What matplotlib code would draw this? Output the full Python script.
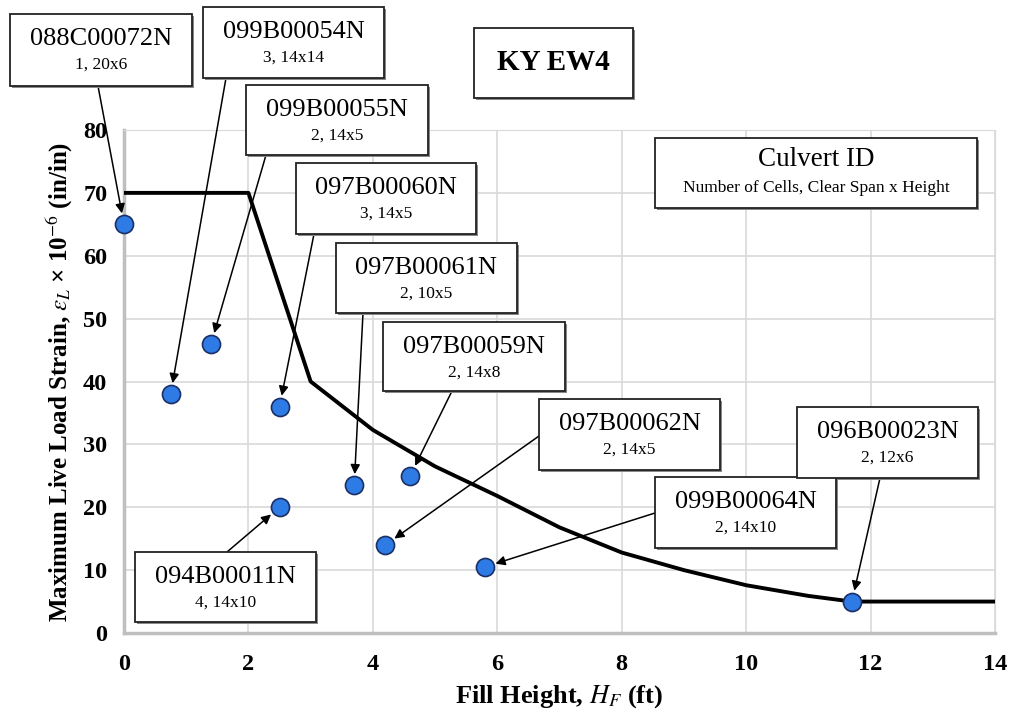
import matplotlib
matplotlib.use("Agg")
import matplotlib.pyplot as plt
from matplotlib.patches import Rectangle

plt.rcParams["mathtext.fontset"] = "stix"

# culvert data
culvert_ids = ["088C00072N", "099B00054N", "099B00055N", "097B00060N", "097B00061N",
               "097B00059N", "097B00062N", "099B00064N", "096B00023N", "094B00011N"]
cell_info = ["1, 20x6", "3, 14x14", "2, 14x5", "3, 14x5", "2, 10x5",
             "2, 14x8", "2, 14x5", "2, 14x10", "2, 12x6", "4, 14x10"]
fill_height = [0.0, 0.75, 1.4, 2.5, 3.7, 4.6, 4.2, 5.8, 11.7, 2.5]
strain = [65.0, 38.0, 46.0, 36.0, 23.5, 25.0, 14.0, 10.5, 5.0, 20.0]

# design limit curve
limit_x = [0, 2, 3, 4, 5, 6, 7, 8, 9, 10, 11, 11.7, 14]
limit_y = [70, 70, 40, 32.3, 26.5, 21.8, 16.8, 12.8, 10.0, 7.6, 5.9, 5.0, 5.0]

# label boxes in pixels from top-left: (left, top, right, bottom), arrow start (x, y)
boxes = [(10, 14, 192, 86), (203, 7, 384, 78), (246, 85, 428, 155), (296, 163, 476, 234),
         (336, 243, 517, 313), (383, 322, 565, 391), (539, 399, 720, 470),
         (655, 477, 836, 548), (797, 407, 978, 478), (135, 552, 316, 622)]
arrow_start = [(98, 86), (226, 78), (266, 155), (314, 234), (363, 313), (452, 391),
               (539, 436), (655, 513), (880, 478), (227, 552)]

W, H = 1011, 723
SERIF = "Liberation Serif"


def fig_xy(px, py):
    return px / W, 1 - py / H


fig = plt.figure(figsize=(W / 100, H / 100), dpi=100)
ax = fig.add_axes([124 / W, 1 - 633 / H, (995 - 124) / W, (633 - 130) / H])

ax.plot(limit_x, limit_y, color="black", linewidth=2.8, zorder=3)
ax.plot(fill_height, strain, linestyle="none", marker="o", markersize=13,
        markerfacecolor="#2f7be6", markeredgecolor="#1a2f66", markeredgewidth=1.2,
        zorder=4, clip_on=False)

ax.set_xlim(0, 14)
ax.set_ylim(0, 80)
ax.set_xticks(range(0, 15, 2))
ax.set_yticks(range(0, 81, 10))
ax.grid(color="#d9d9d9", linewidth=1.2)
ax.set_axisbelow(True)
for side in ["top", "right"]:
    ax.spines[side].set_color("#d9d9d9")
for side in ["left", "bottom"]:
    ax.spines[side].set_color("#bfbfbf")
    ax.spines[side].set_linewidth(2.5)
ax.tick_params(axis="x", length=0, pad=15)
ax.tick_params(axis="y", length=0, pad=12)
for lbl in ax.get_xticklabels() + ax.get_yticklabels():
    lbl.set_fontfamily(SERIF)
    lbl.set_fontweight("bold")
    lbl.set_fontsize(17.5)

ax.set_xlabel(r"Fill Height, $\mathit{H_F}$ (ft)", fontfamily=SERIF, fontweight="bold",
              fontsize=19, labelpad=6)
ax.set_ylabel(r"Maximum Live Load Strain, $\varepsilon_L$ × 10$^{-6}$ (in/in)",
              fontfamily=SERIF, fontweight="bold", fontsize=18, labelpad=6)


def draw_box(l, t, r, b):
    x0, y0 = fig_xy(l, b)
    x1, y1 = fig_xy(r, t)
    fig.patches.append(Rectangle((x0 + 2 / W, y0 - 2 / H), x1 - x0, y1 - y0,
                                 transform=fig.transFigure, facecolor="#888888",
                                 edgecolor="none", zorder=5))
    fig.patches.append(Rectangle((x0, y0), x1 - x0, y1 - y0, transform=fig.transFigure,
                                 facecolor="white", edgecolor="#222222", linewidth=1.3, zorder=6))


for i, name in enumerate(culvert_ids):
    l, t, r, b = boxes[i]
    draw_box(l, t, r, b)
    cx = (l + r) / 2
    fig.text(*fig_xy(cx, t + 25), name, ha="center", va="center", fontfamily=SERIF,
             fontsize=19, zorder=7)
    fig.text(*fig_xy(cx, t + 51), cell_info[i], ha="center", va="center", fontfamily=SERIF,
             fontsize=12.5, zorder=7)
    ax.annotate("", xy=(fill_height[i], strain[i]), xycoords="data",
                xytext=fig_xy(*arrow_start[i]), textcoords="figure fraction",
                arrowprops=dict(arrowstyle="-|>", color="black", lw=1.1,
                                mutation_scale=14, shrinkA=0, shrinkB=8),
                annotation_clip=False, zorder=7)

# chart title box
draw_box(474, 28, 633, 98)
fig.text(*fig_xy(553, 63), "KY EW4", ha="center", va="center", fontfamily=SERIF,
         fontweight="bold", fontsize=21, zorder=7)

# legend key box
draw_box(655, 138, 977, 208)
fig.text(*fig_xy(816, 160), "Culvert ID", ha="center", va="center", fontfamily=SERIF,
         fontsize=19.5, zorder=7)
fig.text(*fig_xy(816, 188), "Number of Cells, Clear Span x Height", ha="center", va="center",
         fontfamily=SERIF, fontsize=12.5, zorder=7)

fig.savefig("out.png", dpi=100)
